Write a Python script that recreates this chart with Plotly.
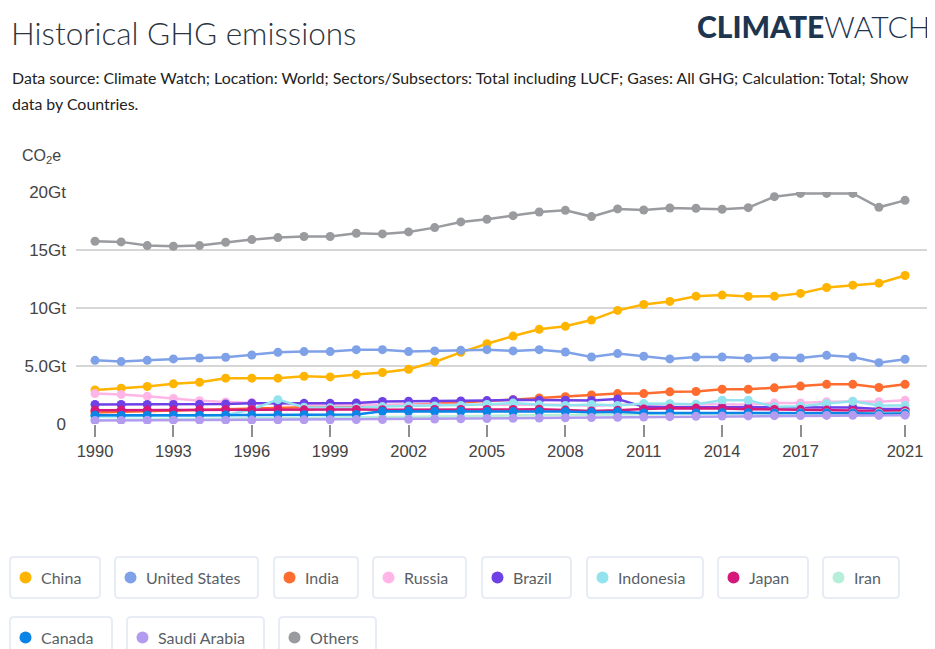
import plotly.graph_objects as go

years = list(range(1990, 2022))

china = [2.94, 3.09, 3.23, 3.46, 3.60, 3.95, 3.95, 3.95, 4.12, 4.06, 4.26, 4.44, 4.72, 5.35, 6.18, 6.92,
         7.58, 8.16, 8.42, 8.96, 9.79, 10.31, 10.57, 11.02, 11.11, 11.00, 11.02, 11.26, 11.77, 11.97, 12.14, 12.80]
united_states = [5.49, 5.38, 5.49, 5.61, 5.69, 5.75, 5.95, 6.18, 6.24, 6.24, 6.41, 6.41, 6.24, 6.30, 6.35, 6.41,
                 6.30, 6.41, 6.21, 5.78, 6.07, 5.84, 5.61, 5.78, 5.78, 5.67, 5.75, 5.69, 5.92, 5.78, 5.29, 5.58]
india = [1.00, 1.05, 1.10, 1.15, 1.20, 1.28, 1.35, 1.40, 1.45, 1.50, 1.55, 1.60, 1.65, 1.75, 1.85, 1.97,
         2.10, 2.25, 2.35, 2.50, 2.62, 2.62, 2.77, 2.80, 3.00, 3.00, 3.12, 3.27, 3.42, 3.42, 3.15, 3.42]
russia = [2.62, 2.55, 2.40, 2.20, 2.00, 1.90, 1.85, 1.75, 1.65, 1.65, 1.62, 1.62, 1.60, 1.62, 1.60, 1.60,
          1.62, 1.62, 1.65, 1.55, 1.65, 1.68, 1.70, 1.66, 1.70, 1.66, 1.80, 1.82, 1.92, 1.95, 1.92, 2.05]
brazil = [1.68, 1.68, 1.68, 1.68, 1.70, 1.72, 1.78, 1.76, 1.78, 1.78, 1.82, 1.95, 1.96, 1.97, 1.99, 2.02,
          2.08, 2.05, 2.05, 2.03, 2.15, 1.48, 1.45, 1.45, 1.45, 1.45, 1.45, 1.42, 1.42, 1.42, 1.30, 1.30]
indonesia = [0.65, 0.70, 0.70, 0.70, 0.75, 0.75, 1.25, 2.10, 1.45, 1.40, 1.40, 1.50, 1.55, 1.55, 1.60, 1.68,
             1.80, 1.65, 1.60, 1.68, 1.60, 1.76, 1.75, 1.70, 2.05, 2.05, 1.48, 1.53, 1.76, 1.96, 1.59, 1.59]
japan = [1.19, 1.20, 1.20, 1.20, 1.22, 1.24, 1.25, 1.25, 1.22, 1.23, 1.25, 1.23, 1.25, 1.25, 1.26, 1.26,
         1.25, 1.27, 1.20, 1.12, 1.18, 1.30, 1.35, 1.37, 1.33, 1.28, 1.26, 1.24, 1.20, 1.16, 1.10, 1.15]
iran = [0.35, 0.37, 0.39, 0.41, 0.43, 0.45, 0.47, 0.49, 0.50, 0.52, 0.55, 0.58, 0.60, 0.63, 0.66, 0.70,
        0.73, 0.76, 0.78, 0.80, 0.82, 0.84, 0.86, 0.88, 0.90, 0.90, 0.92, 0.95, 0.95, 0.95, 0.95, 0.98]
canada = [0.75, 0.73, 0.75, 0.75, 0.76, 0.78, 0.79, 0.80, 0.80, 0.80, 0.82, 1.10, 1.10, 1.10, 1.10, 1.08,
          1.07, 1.08, 1.07, 1.02, 1.05, 0.95, 0.95, 0.95, 0.97, 0.97, 0.93, 0.95, 0.95, 0.93, 0.88, 0.90]
saudi_arabia = [0.30, 0.31, 0.32, 0.33, 0.33, 0.33, 0.34, 0.35, 0.36, 0.37, 0.38, 0.39, 0.41, 0.43, 0.45, 0.47,
                0.49, 0.51, 0.53, 0.55, 0.58, 0.60, 0.63, 0.66, 0.68, 0.70, 0.72, 0.73, 0.74, 0.75, 0.74, 0.76]
others = [15.75, 15.70, 15.38, 15.32, 15.38, 15.67, 15.90, 16.07, 16.16, 16.16, 16.44, 16.39, 16.56, 16.93, 17.42, 17.65,
          17.96, 18.28, 18.42, 17.88, 18.54, 18.45, 18.62, 18.59, 18.51, 18.65, 19.60, 19.88, 19.88, 19.88, 18.68, 19.28]

series_names = ["China", "United States", "India", "Russia", "Brazil", "Indonesia", "Japan", "Iran",
                "Canada", "Saudi Arabia", "Others"]
series_values = [china, united_states, india, russia, brazil, indonesia, japan, iran, canada, saudi_arabia, others]
series_colors = ["#FFB400", "#7FA1E8", "#FF6C2F", "#FFB6E6", "#6E40E6", "#93E3EF", "#D5197B", "#B6EFD9",
                 "#0A84E6", "#B39CF0", "#999B9E"]

x_tickvals = [1990, 1993, 1996, 1999, 2002, 2005, 2008, 2011, 2014, 2017, 2021]
y_tickvals = [0, 5, 10, 15, 20]
y_ticktext = ["0", "5.0Gt", "10Gt", "15Gt", "20Gt"]

# page body has an 8px margin: figure drawn 8px right/down of the window origin
OFF = 8
W, H = 935 - OFF, 649 - OFF
# plot area in window pixel coordinates
L, R, T, B = 76, 930, 192, 424


def X(px):
    return (px - L) / (R - L)


def Y(py):
    return (B - py) / (B - T)


fig = go.Figure()
for name, vals, col in zip(series_names, series_values, series_colors):
    fig.add_trace(go.Scatter(
        x=years, y=vals, name=name, mode="lines+markers",
        line=dict(color=col, width=2.5),
        marker=dict(color=col, size=9),
        showlegend=False,
    ))

ppy = 26.13
fig.update_xaxes(
    range=[1990 - (95 - L) / ppy, 1990 + (R - 95) / ppy],
    tickvals=x_tickvals, ticks="outside", ticklen=12, tickwidth=1.5, tickcolor="#8f8f8f",
    showgrid=False, zeroline=False, showline=False,
    tickfont=dict(family="Liberation Sans, Arial", size=16.5, color="#444444"),
)
fig.update_yaxes(
    range=[0, 20], tickvals=y_tickvals, ticktext=y_ticktext,
    showgrid=True, gridcolor="#D6D6D6", gridwidth=1.5, zeroline=False, showline=False,
    ticklabelstandoff=9,
    tickfont=dict(family="Liberation Sans, Arial", size=17, color="#444444"),
)

annotations = [
    dict(text="Historical GHG emissions", x=X(9), y=Y(33), xanchor="left", yanchor="middle",
         font=dict(family="Lato", size=31.5, color="#2B3440", weight=300)),
    dict(text='<span style="font-weight:900">CLIMATE</span>WATCH', x=X(932), y=Y(26), xanchor="right",
         yanchor="middle", font=dict(family="Lato", size=30, color="#1E3550", weight=300)),
    dict(text="Data source: Climate Watch; Location: World; Sectors/Subsectors: Total including LUCF; Gases: All GHG; Calculation: Total; Show",
         x=X(10), y=Y(77), xanchor="left", yanchor="middle",
         font=dict(family="Lato", size=15.9, color="#222222")),
    dict(text="data by Countries.", x=X(10), y=Y(103), xanchor="left", yanchor="middle",
         font=dict(family="Lato", size=15.9, color="#222222")),
    dict(text="CO<sub>2</sub>e", x=X(20), y=Y(156), xanchor="left", yanchor="middle",
         font=dict(family="Liberation Sans, Arial", size=16, color="#444444")),
]

shapes = []


def rrect(x0, y0, x1, y1, r):
    pts = (f"M {X(x0 + r)},{Y(y0)} L {X(x1 - r)},{Y(y0)} Q {X(x1)},{Y(y0)} {X(x1)},{Y(y0 + r)} "
           f"L {X(x1)},{Y(y1 - r)} Q {X(x1)},{Y(y1)} {X(x1 - r)},{Y(y1)} "
           f"L {X(x0 + r)},{Y(y1)} Q {X(x0)},{Y(y1)} {X(x0)},{Y(y1 - r)} "
           f"L {X(x0)},{Y(y0 + r)} Q {X(x0)},{Y(y0)} {X(x0 + r)},{Y(y0)} Z")
    return pts


# legend boxes: (left px, right px, row top px)
legend_boxes = [(10, 100, 557), (115, 258, 557), (274, 358, 557), (373, 466, 557), (482, 571, 557),
                (587, 703, 557), (718, 808, 557), (823, 899, 557),
                (10, 112, 617), (127, 264, 617), (279, 376, 617)]
box_h = 41
for (x0, x1, y0), name, col in zip(legend_boxes, series_names, series_colors):
    shapes.append(dict(type="path", xref="paper", yref="paper", path=rrect(x0, y0, x1, y0 + box_h, 4),
                       line=dict(color="#E8ECF5", width=2), fillcolor="rgba(255,255,255,0)", layer="above"))
    cy = y0 + box_h / 2
    cx = x0 + 15.5
    rr = 6
    shapes.append(dict(type="circle", xref="paper", yref="paper",
                       x0=X(cx - rr), x1=X(cx + rr), y0=Y(cy + rr), y1=Y(cy - rr),
                       fillcolor=col, line=dict(width=0), layer="above"))
    annotations.append(dict(text=name, x=X(x0 + 29), y=Y(cy), xanchor="left", yanchor="middle",
                            font=dict(family="Lato", size=16, color="#5A5F66")))

for a in annotations:
    a.update(xref="paper", yref="paper", showarrow=False)

fig.update_layout(
    width=W, height=H,
    margin=dict(l=L - OFF, r=(935 - OFF) - (R - OFF), t=T - OFF, b=(649 - OFF) - (B - OFF), pad=0),
    paper_bgcolor="white", plot_bgcolor="white",
    annotations=annotations, shapes=shapes,
    showlegend=False,
)

fig.write_html("out.html")
